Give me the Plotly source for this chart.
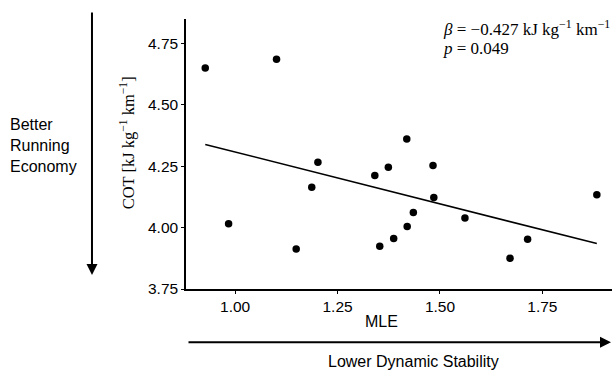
import plotly.graph_objects as go

# Data
mle = [0.927, 1.101, 0.984, 1.149, 1.187, 1.202, 1.341, 1.353, 1.374, 1.387,
       1.419, 1.420, 1.435, 1.483, 1.485, 1.561, 1.671, 1.714, 1.883]
cot = [4.650, 4.686, 4.016, 3.913, 4.165, 4.266, 4.212, 3.924, 4.246, 3.956,
       4.361, 4.005, 4.062, 4.253, 4.123, 4.039, 3.875, 3.953, 4.134]
fit_x = [0.927, 1.883]
fit_y = [4.339, 3.935]
x_ticks = [1.00, 1.25, 1.50, 1.75]
y_ticks = [3.75, 4.00, 4.25, 4.50, 4.75]

SANS = "Liberation Sans, Arial, sans-serif"
SERIF = "Liberation Serif, Times New Roman, serif"

fig = go.Figure()
fig.add_trace(go.Scatter(x=fit_x, y=fit_y, mode="lines",
                         line=dict(color="black", width=1.6), hoverinfo="skip"))
fig.add_trace(go.Scatter(x=mle, y=cot, mode="markers",
                         marker=dict(color="black", size=7.5)))

fig.update_layout(
    width=612, height=370,
    margin=dict(l=186, r=0, t=19, b=81),
    paper_bgcolor="white", plot_bgcolor="white",
    showlegend=False,
    xaxis=dict(range=[0.88, 1.92], tickvals=x_ticks, ticktext=[f"{v:.2f}" for v in x_ticks],
               showline=True, linecolor="black", linewidth=1.5, showgrid=False, zeroline=False,
               ticks="outside", ticklen=3, tickwidth=1, tickcolor="black",
               tickfont=dict(family=SANS, size=15.5, color="black")),
    yaxis=dict(range=[3.75, 4.85], tickvals=y_ticks, ticktext=[f"{v:.2f}" for v in y_ticks],
               showline=True, linecolor="black", linewidth=1.5, showgrid=False, zeroline=False,
               ticks="outside", ticklen=3, tickwidth=1, tickcolor="black",
               tickfont=dict(family=SANS, size=15.5, color="black")),
)

ann = []
# axis titles
ann.append(dict(text="MLE", x=0.460, y=-0.121, xref="paper", yref="paper",
                showarrow=False, xanchor="center", yanchor="middle",
                font=dict(family=SANS, size=16, color="black")))
ann.append(dict(text="COT [kJ kg<sup>−1</sup> km<sup>−1</sup>]", x=-0.137, y=0.542,
                xref="paper", yref="paper", textangle=-90, showarrow=False,
                xanchor="center", yanchor="middle",
                font=dict(family=SERIF, size=16.5, color="black")))
ann.append(dict(text="Lower Dynamic Stability", x=0.5336, y=-0.269, xref="paper", yref="paper",
                showarrow=False, xanchor="center", yanchor="middle",
                font=dict(family=SANS, size=16, color="black")))
ann.append(dict(text="Better<br>Running<br>Economy", x=-0.418, y=0.530, xref="paper", yref="paper",
                showarrow=False, xanchor="left", yanchor="middle", align="left",
                font=dict(family=SANS, size=16, color="black")))
# stats
ann.append(dict(text="<i>β</i> = −0.427 kJ kg<sup>−1</sup> km<sup>−1</sup>", x=0.598, y=0.968,
                xref="paper", yref="paper", showarrow=False, xanchor="left", yanchor="middle",
                font=dict(family=SERIF, size=17, color="black")))
ann.append(dict(text="<i>p</i> = 0.049", x=0.598, y=0.890,
                xref="paper", yref="paper", showarrow=False, xanchor="left", yanchor="middle",
                font=dict(family=SERIF, size=17, color="black")))
# arrows
ann.append(dict(text="", x=-0.2207, y=0.0519, xref="paper", yref="paper",
                ax=0, ay=-264, axref="pixel", ayref="pixel", showarrow=True,
                arrowhead=2, arrowsize=1.1, arrowwidth=2, arrowcolor="black"))
ann.append(dict(text="", x=1.0, y=-0.197, xref="paper", yref="paper",
                ax=-425, ay=0, axref="pixel", ayref="pixel", showarrow=True,
                arrowhead=2, arrowsize=1.1, arrowwidth=2, arrowcolor="black"))
fig.update_layout(annotations=ann)

fig.write_html("out.html", config={"displayModeBar": False},
               post_script="document.body.style.margin='0px';document.body.style.padding='0px';")
